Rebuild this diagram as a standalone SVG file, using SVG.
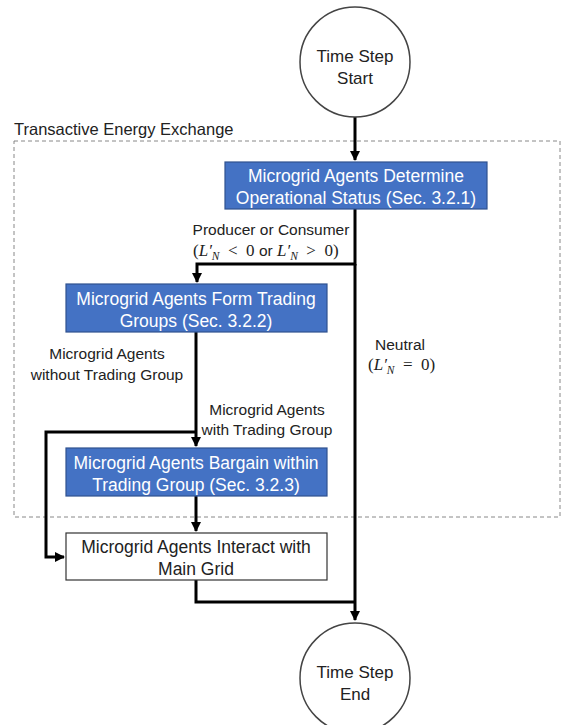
<svg xmlns="http://www.w3.org/2000/svg" width="568" height="725" viewBox="0 0 568 725">
<style>
text{font-family:"Liberation Sans",Arial,sans-serif;font-size:15.5px;fill:#222}
.c{text-anchor:middle}
.w{fill:#fff;font-size:17.5px}
.b{font-size:17.5px}
.blue{fill:#4472C4;stroke:#2F528F;stroke-width:1.2}
.white{fill:#fff;stroke:#333;stroke-width:1.2}
.circ{fill:#fff;stroke:#444;stroke-width:1.5}
.con{fill:none;stroke:#000;stroke-width:3}
.m{font-family:"Liberation Serif","DejaVu Serif",serif;font-style:italic;font-size:17px}
.sub{font-family:"Liberation Serif","DejaVu Serif",serif;font-style:italic;font-size:11.5px}
.mr{font-family:"Liberation Serif","DejaVu Serif",serif;font-size:17px}
</style>
<defs>
<marker id="a" markerWidth="10" markerHeight="10" refX="9" refY="5" orient="auto" markerUnits="userSpaceOnUse" viewBox="0 0 10 10">
<path d="M0,0 L10,5 L0,10 Z" fill="#000"/>
</marker>
</defs>

<g id="region">
<rect x="14" y="141" width="546" height="376" fill="none" stroke="#888" stroke-width="1" stroke-dasharray="4,3"/>
<text x="14" y="135" style="font-size:16.5px">Transactive Energy Exchange</text>
</g>

<g id="connectors">
<path class="con" d="M355,117 V160" marker-end="url(#a)"/>
<path class="con" d="M355,209 V264 H197 V282" marker-end="url(#a)"/>
<path class="con" d="M355,264 V620" marker-end="url(#a)"/>
<path class="con" d="M196,332 V446" marker-end="url(#a)"/>
<path class="con" d="M196,432 H46 V557 H64" marker-end="url(#a)"/>
<path class="con" d="M196,496 V531" marker-end="url(#a)"/>
<path class="con" d="M196,580 V602 H355"/>
</g>

<g id="start">
<circle class="circ" cx="355" cy="62" r="55"/>
<text class="c" x="355" y="62" style="font-size:17px">Time Step</text>
<text class="c" x="355" y="84" style="font-size:17px">Start</text>
</g>

<g id="determine">
<rect class="blue" x="225" y="162" width="262" height="47"/>
<text class="c w" x="356" y="182">Microgrid Agents Determine</text>
<text class="c w" x="356" y="204">Operational Status (Sec. 3.2.1)</text>
</g>

<g id="label-producer">
<text class="c" x="271" y="235">Producer or Consumer</text>
<text x="193" y="256"><tspan class="mr">(</tspan><tspan class="m">L′</tspan><tspan class="sub" dy="4">N</tspan><tspan class="mr" dy="-4">&#160;&#160;&lt;&#160;&#160;0 </tspan><tspan>or </tspan><tspan class="m">L′</tspan><tspan class="sub" dy="4">N</tspan><tspan class="mr" dy="-4">&#160;&#160;&gt;&#160;&#160;0)</tspan></text>
</g>

<g id="form">
<rect class="blue" x="66" y="284" width="261" height="48"/>
<text class="c w" x="196" y="305">Microgrid Agents Form Trading</text>
<text class="c w" x="196" y="327">Groups (Sec. 3.2.2)</text>
</g>

<g id="label-without">
<text class="c" x="107" y="359">Microgrid Agents</text>
<text class="c" x="107" y="380">without Trading Group</text>
</g>

<g id="label-with">
<text class="c" x="267" y="415">Microgrid Agents</text>
<text class="c" x="267" y="435">with Trading Group</text>
</g>

<g id="label-neutral">
<text class="c" x="400" y="350">Neutral</text>
<text x="368" y="370"><tspan class="mr">(</tspan><tspan class="m">L′</tspan><tspan class="sub" dy="4">N</tspan><tspan class="mr" dy="-4">&#160;&#160;=&#160;&#160;0)</tspan></text>
</g>

<g id="bargain">
<rect class="blue" x="66" y="448" width="261" height="48"/>
<text class="c w" x="196" y="469">Microgrid Agents Bargain within</text>
<text class="c w" x="196" y="491">Trading Group (Sec. 3.2.3)</text>
</g>

<g id="interact">
<rect class="white" x="66" y="533" width="261" height="47"/>
<text class="c b" x="196" y="553">Microgrid Agents Interact with</text>
<text class="c b" x="196" y="575">Main Grid</text>
</g>

<g id="end">
<circle class="circ" cx="355" cy="678" r="55"/>
<text class="c" x="355" y="678" style="font-size:17px">Time Step</text>
<text class="c" x="355" y="700" style="font-size:17px">End</text>
</g>
</svg>
